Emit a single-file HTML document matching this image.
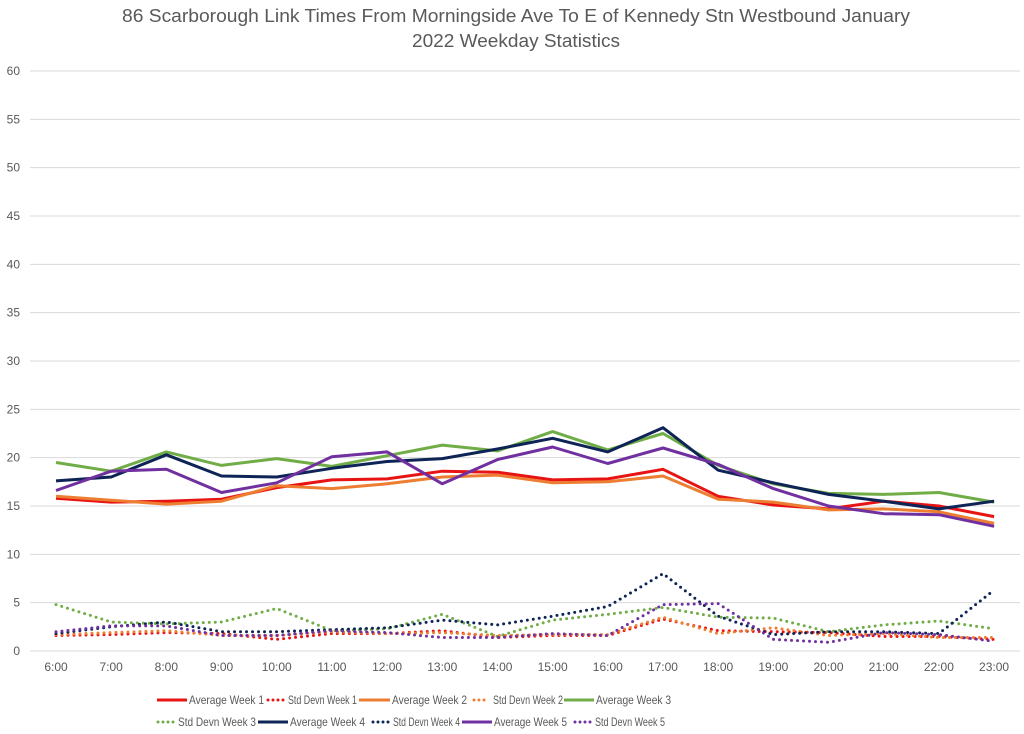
<!DOCTYPE html>
<html><head><meta charset="utf-8"><style>
html,body{margin:0;padding:0;background:#fff;}
svg{display:block;font-family:"Liberation Sans",Calibri,sans-serif;}
</style></head><body>
<svg id="chart" width="1024" height="734" viewBox="0 0 1024 734" xmlns="http://www.w3.org/2000/svg">
<text x="516" y="22" text-anchor="middle" font-size="18" fill="#595959" textLength="788" lengthAdjust="spacingAndGlyphs">86 Scarborough Link Times From Morningside Ave To E of Kennedy Stn Westbound January</text>
<text x="516" y="47" text-anchor="middle" font-size="18" fill="#595959" textLength="208" lengthAdjust="spacingAndGlyphs">2022 Weekday Statistics</text>
<g id="grid"></g><g id="series"></g><g id="legend"></g>
</svg>
<script>
const categories=["6:00","7:00","8:00","9:00","10:00","11:00","12:00","13:00","14:00","15:00","16:00","17:00","18:00","19:00","20:00","21:00","22:00","23:00"];
const yTicks=[0,5,10,15,20,25,30,35,40,45,50,55,60];
const avgW1=[15.8,15.4,15.5,15.7,16.9,17.7,17.8,18.6,18.5,17.7,17.8,18.8,16.0,15.1,14.7,15.5,15.0,13.9];
const sdW1=[1.6,1.7,1.9,1.8,1.2,1.8,1.8,2.1,1.4,1.6,1.6,3.3,2.1,2.0,1.9,1.5,1.5,1.2];
const avgW2=[16.0,15.6,15.2,15.5,17.1,16.8,17.3,18.0,18.2,17.4,17.5,18.1,15.7,15.4,14.6,14.7,14.4,13.2];
const sdW2=[1.7,1.9,2.1,1.6,1.6,2.0,1.8,1.9,1.6,1.7,1.7,3.5,1.8,2.4,1.6,1.8,1.4,1.4];
const avgW3=[19.5,18.6,20.6,19.2,19.9,19.1,20.2,21.3,20.7,22.7,20.8,22.5,19.2,17.3,16.3,16.2,16.4,15.4];
const sdW3=[4.8,3.0,2.8,3.0,4.4,2.1,2.3,3.8,1.5,3.2,3.8,4.5,3.5,3.4,2.0,2.7,3.1,2.3];
const avgW4=[17.6,18.0,20.3,18.1,18.0,18.9,19.6,19.9,20.9,22.0,20.6,23.1,18.7,17.4,16.2,15.5,14.7,15.5];
const sdW4=[1.8,2.5,3.0,2.0,2.0,2.2,2.4,3.2,2.7,3.6,4.6,8.0,3.6,1.7,2.0,2.0,1.8,6.3];
const avgW5=[16.6,18.6,18.8,16.4,17.4,20.1,20.6,17.3,19.8,21.1,19.4,21.0,19.3,16.8,15.0,14.2,14.1,12.9];
const sdW5=[2.0,2.6,2.6,1.6,1.6,2.1,1.9,1.4,1.4,1.8,1.6,4.8,4.9,1.2,0.9,1.9,1.7,1.0];

const NS="http://www.w3.org/2000/svg";
const X0=56,DX=55.18,Y0=651,PY=9.667;
const xs=i=>X0+i*DX, ys=v=>Y0-v*PY;
function mk(t,a,p){const e=document.createElementNS(NS,t);for(const k in a)e.setAttribute(k,a[k]);p.appendChild(e);return e;}
const grid=document.getElementById('grid');
yTicks.forEach(t=>{
  const l=mk('line',{x1:30,x2:1020,y1:ys(t),y2:ys(t),stroke:'#d9d9d9','stroke-width':1},grid);
  
  
  const tx=mk('text',{x:20,y:ys(t)+4,'text-anchor':'end','font-size':12,fill:'#595959'},grid);
  tx.textContent=t;
  
  
});
categories.forEach((c,i)=>{
  const tx=mk('text',{x:xs(i),y:671,'text-anchor':'middle','font-size':12,fill:'#595959'},grid);
  tx.textContent=c;
  
  
});
const seriesList=[
 {n:'Average Week 1',d:avgW1,c:'#e81414',dot:false},
 {n:'Std Devn Week 1',d:sdW1,c:'#e81414',dot:true},
 {n:'Average Week 2',d:avgW2,c:'#ed7d31',dot:false},
 {n:'Std Devn Week 2',d:sdW2,c:'#ed7d31',dot:true},
 {n:'Average Week 3',d:avgW3,c:'#70ad47',dot:false},
 {n:'Std Devn Week 3',d:sdW3,c:'#70ad47',dot:true},
 {n:'Average Week 4',d:avgW4,c:'#0e2356',dot:false},
 {n:'Std Devn Week 4',d:sdW4,c:'#0e2356',dot:true},
 {n:'Average Week 5',d:avgW5,c:'#7030a0',dot:false},
 {n:'Std Devn Week 5',d:sdW5,c:'#7030a0',dot:true}];
const sg=document.getElementById('series');
seriesList.forEach(s=>{
  const pts=s.d.map((v,i)=>xs(i).toFixed(1)+','+ys(v).toFixed(1)).join(' ');
  const a={points:pts,fill:'none',stroke:s.c,'stroke-width':3,'stroke-linejoin':'round'};
  if(s.dot){a['stroke-dasharray']='0 6';a['stroke-linecap']='round';}
  const p=mk('polyline',a,sg);
  
  
});
const lg=document.getElementById('legend');
// [lineStart, lineEnd, textStart, textEnd, y]
const lpos=[[157,187,189,264,700],[268,284,288,357,700],[359,390,392,467,700],[474,489,493,563,700],[564,594,596,671,700],
            [158,174,178,256,722],[258,288,290,365,722],[373,389,393,460,722],[462,492,494,567,722],[575,591,595,665,722]];
seriesList.forEach((s,i)=>{
  const [x1,x2,t1,t2,y]=lpos[i];
  const a={x1:x1,x2:x2,y1:y,y2:y,stroke:s.c,'stroke-width':3};
  if(s.dot){a['stroke-dasharray']='0 5';a['stroke-linecap']='round';}
  const g=mk('g',{},lg);
  
  
  mk('line',a,g);
  const t=mk('text',{x:t1,y:y+4,'font-size':12,fill:'#595959',textLength:t2-t1,lengthAdjust:'spacingAndGlyphs'},g);
  t.textContent=s.n;
});
</script>
</body></html>
